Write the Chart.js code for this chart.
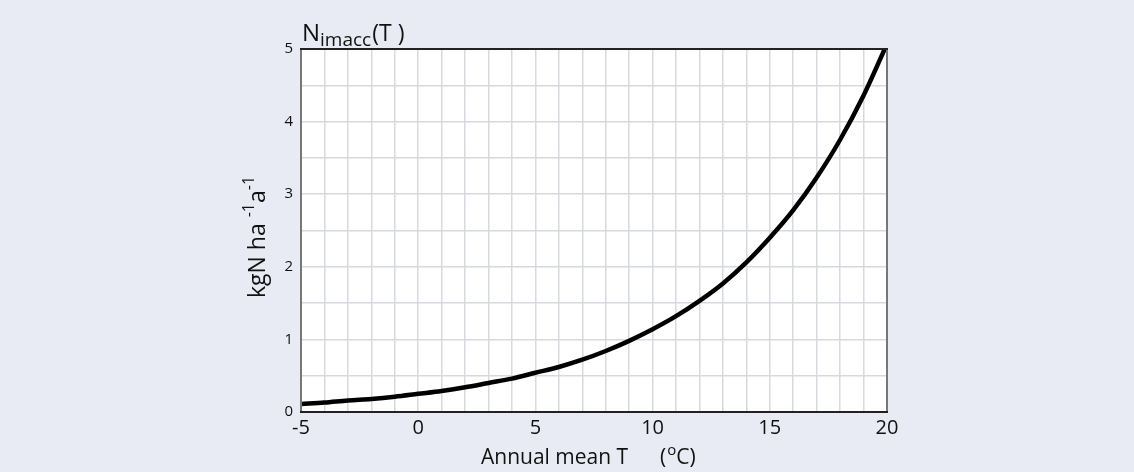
<!DOCTYPE html>
<html>
<head>
<meta charset="utf-8">
<script src="https://cdn.jsdelivr.net/npm/chart.js@4"></script>
<style>
  body { margin: 0; background: #e8ebf4; }
  .box { width: 1134px; height: 472px; position: relative; }
</style>
</head>
<body>
<div class="box"><canvas id="c"></canvas></div>
<script>
// annual mean temperature (°C)
const temps = [-5, -4, -3, -2, -1, 0, 1, 2, 3, 4, 5, 6, 7, 8, 9, 10, 11, 12, 13, 14, 15, 16, 17, 18, 19, 20];
// N_imacc(T), kgN ha-1 a-1
const nImacc = [0.11, 0.13, 0.16, 0.18, 0.21, 0.25, 0.29, 0.34, 0.40, 0.46, 0.54, 0.62, 0.72, 0.84, 0.98,
  1.14, 1.32, 1.53, 1.77, 2.06, 2.40, 2.78, 3.23, 3.75, 4.36, 5.07];
const xLabels = [-5, 0, 5, 10, 15, 20];
const yLabels = [0, 1, 2, 3, 4, 5];

const FONT = '"Open Sans", "Noto Sans", sans-serif';

const decor = {
  id: "decor",
  beforeDraw(chart) {
    const { ctx, chartArea: a } = chart;
    ctx.save();
    ctx.fillStyle = "#e8ebf4";
    ctx.fillRect(0, 0, chart.width, chart.height);
    ctx.fillStyle = "#ffffff";
    ctx.fillRect(a.left, a.top, a.right - a.left, a.bottom - a.top);
    ctx.restore();
  },
  afterDraw(chart) {
    const { ctx, chartArea: a } = chart;
    ctx.save();
    // frame
    ctx.lineWidth = 2;
    ctx.strokeStyle = "#777";
    ctx.beginPath();
    ctx.moveTo(a.left, a.top); ctx.lineTo(a.left, a.bottom);
    ctx.moveTo(a.right, a.top); ctx.lineTo(a.right, a.bottom);
    ctx.stroke();
    ctx.strokeStyle = "#222";
    ctx.beginPath();
    ctx.moveTo(a.left - 1, a.top); ctx.lineTo(a.right + 1, a.top);
    ctx.moveTo(a.left - 1, a.bottom); ctx.lineTo(a.right + 1, a.bottom);
    ctx.stroke();

    ctx.fillStyle = "#111";
    ctx.textBaseline = "alphabetic";
    // title N_imacc(T)
    let x = a.left + 1, y = a.top - 8;
    ctx.textAlign = "left";
    ctx.font = `24px ${FONT}`;
    ctx.fillText("N", x, y);
    x += ctx.measureText("N").width;
    ctx.font = `19px ${FONT}`;
    ctx.fillText("imacc", x, y + 5);
    x += ctx.measureText("imacc").width + 1;
    ctx.font = `23px ${FONT}`;
    ctx.fillText("(T )", x, y);

    // x axis title
    const sy = 464;
    ctx.font = `21px ${FONT}`;
    ctx.fillText("Annual mean T", 481, sy);
    let sx = 660;
    ctx.fillText("(", sx, sy); sx += ctx.measureText("(").width + 1;
    ctx.font = `15px ${FONT}`;
    ctx.fillText("o", sx, sy - 9); sx += ctx.measureText("o").width;
    ctx.font = `21px ${FONT}`;
    ctx.fillText("C)", sx, sy);

    // y axis title, rotated
    ctx.translate(259, 237);
    ctx.rotate(-Math.PI / 2);
    const parts = [["kgN ha ", 23, 0], ["-1", 16, -11], ["a", 23, 0], ["-1", 16, -11]];
    let tw = 0;
    parts.forEach(([t, s]) => { ctx.font = `${s}px ${FONT}`; tw += ctx.measureText(t).width; });
    let px = -tw / 2;
    parts.forEach(([t, s, dy]) => {
      ctx.font = `${s}px ${FONT}`;
      ctx.fillText(t, px, 6 + dy);
      px += ctx.measureText(t).width;
    });
    ctx.restore();
  }
};

new Chart(document.getElementById("c"), {
  type: "line",
  data: {
    labels: temps,
    datasets: [{
      data: temps.map((t, i) => ({ x: t, y: nImacc[i] })),
      borderColor: "#000",
      borderWidth: 4.5,
      pointRadius: 0,
      cubicInterpolationMode: "monotone",
      fill: false
    }]
  },
  options: {
    responsive: true,
    maintainAspectRatio: false,
    animation: false,
    layout: { padding: { left: 0, right: 247, top: 49, bottom: 0 } },
    plugins: { legend: { display: false }, tooltip: { enabled: false } },
    scales: {
      x: {
        type: "linear",
        min: -5, max: 20,
        border: { display: false },
        grid: { color: "#d6d9de", lineWidth: 1.5, drawTicks: false },
        afterFit: s => { s.height = 60; },
        ticks: {
          stepSize: 1, autoSkip: false, maxRotation: 0, padding: 4,
          color: "#111", font: { family: FONT, size: 20 },
          callback: v => xLabels.includes(v) ? String(v) : ""
        }
      },
      y: {
        min: 0, max: 5,
        border: { display: false },
        grid: { color: "#d6d9de", lineWidth: 1.5, drawTicks: false },
        afterFit: s => { s.width = 301; },
        ticks: {
          stepSize: 0.5, autoSkip: false, padding: 8,
          color: "#111", font: { family: FONT, size: 15 },
          callback: v => yLabels.includes(v) ? String(v) : ""
        }
      }
    }
  },
  plugins: [decor]
});
</script>
</body>
</html>
